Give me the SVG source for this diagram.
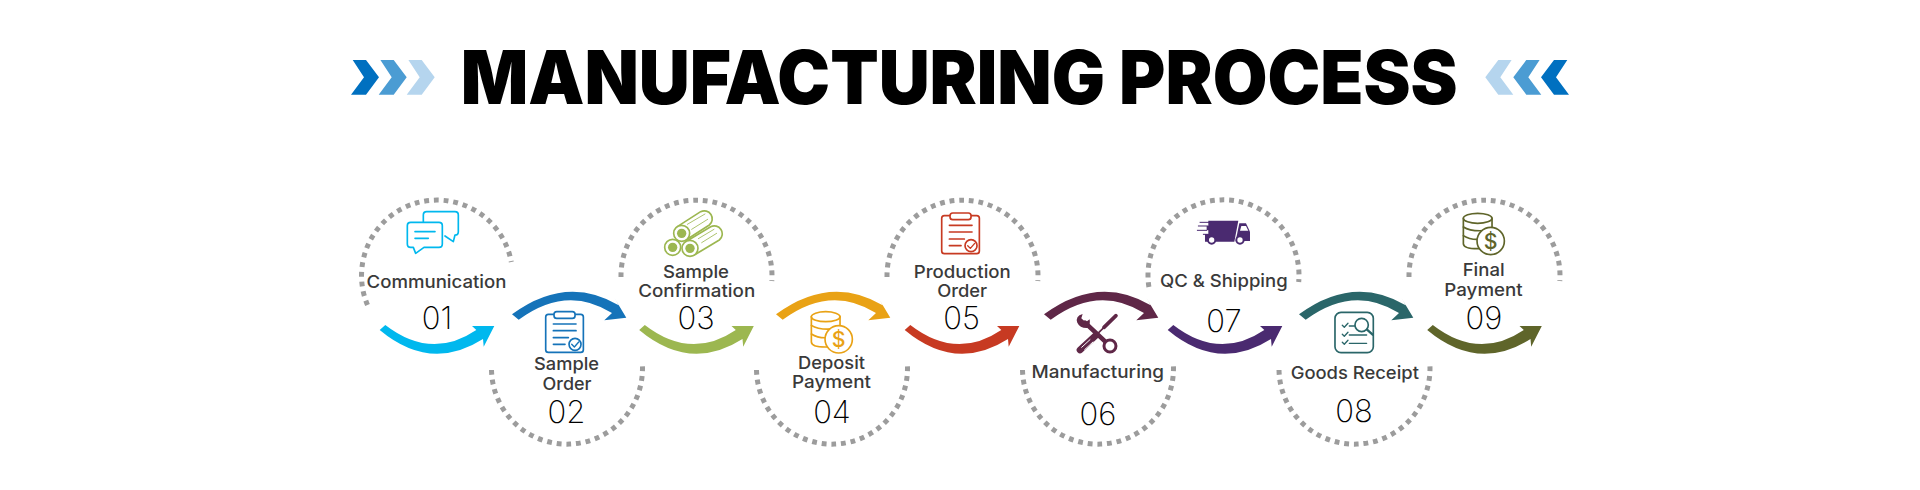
<svg xmlns="http://www.w3.org/2000/svg" width="1920" height="490" viewBox="0 0 1920 490">
<style>
text{font-family:Inter,"Liberation Sans",sans-serif;text-anchor:middle}
.title{font-size:74px;font-weight:900;fill:#000}
.lb{font-size:17.5px;font-weight:500;fill:#3a3a3a}
.num{font-size:31px;font-weight:200;fill:#000}
.ring{fill:none;stroke:#9c9c9c;stroke-width:5;stroke-dasharray:4.8 4.9}
.ic{fill:none;stroke:currentColor;stroke-width:5;stroke-linecap:round;stroke-linejoin:round}
.wf{fill:#fff}
.ff{fill:currentColor;stroke:none}
</style>
<defs>
<path id="chev" d="M1.7,0H15L28,17.3L15,34.7H0L13,17.3Z"/>
<path id="arrowLow" d="M-51.7,-24Q-5.8,11.5 39.3,-19L35,-23H57.3L46.7,-2.3L46,-10Q-6.4,23.5 -57.3,-19Z"/>
<path id="arrowUp" d="M-55,22.3Q-0.4,-17.8 51.7,13.3L47.3,5.7L59.3,25.7L37.3,28.3L45,21Q-0.4,-7.7 -48.3,27.7Z"/>
<g id="clipboard" class="ic">
<rect x="0" y="0" width="113" height="114" rx="8"/>
<rect class="wf" x="25" y="-8" width="63" height="20" rx="8"/>
<path d="M23,29H91M23,49H91M23,70H68M23,90H58"/>
<circle class="wf" cx="88" cy="90" r="18"/>
<path d="M78,90L86,98L99,83" stroke-width="4"/>
</g>
<g id="coins" class="ic">
<path class="wf" d="M-43,0V76Q-43,91 0,91Q43,91 43,76V0"/>
<ellipse class="wf" cx="0" cy="0" rx="43" ry="15"/>
<path d="M-43,26Q-20,41 30,36M-43,52Q-20,67 15,62"/>
<circle class="wf" cx="39" cy="68" r="41"/>
<text x="39" y="91" font-size="64" font-weight="500" fill="currentColor" stroke="none">$</text>
</g>
</defs>

<g id="title">
<text class="title" x="959.2" y="104" textLength="997" lengthAdjust="spacingAndGlyphs">MANUFACTURING PROCESS</text>
<use href="#chev" x="351" y="60" fill="#0070c0"/>
<use href="#chev" x="378.7" y="60" fill="#4b9cd3"/>
<use href="#chev" x="406.7" y="60" fill="#b5d5ee"/>
<g transform="translate(1920,0) scale(-1,1)">
<use href="#chev" x="351" y="60" fill="#0070c0"/>
<use href="#chev" x="378.7" y="60" fill="#4b9cd3"/>
<use href="#chev" x="406.7" y="60" fill="#b5d5ee"/>
</g>
</g>

<g id="connectors">
<use href="#arrowLow" x="437" y="349" fill="#00b8ee"/>
<use href="#arrowUp" x="567" y="292" fill="#1573b9"/>
<use href="#arrowLow" x="696.5" y="349" fill="#9cb750"/>
<use href="#arrowUp" x="831" y="292" fill="#e9a215"/>
<use href="#arrowLow" x="962" y="349" fill="#c73a22"/>
<use href="#arrowUp" x="1099" y="292" fill="#5f2747"/>
<use href="#arrowLow" x="1225" y="349" fill="#4a2a70"/>
<use href="#arrowUp" x="1354" y="292" fill="#2a6669"/>
<use href="#arrowLow" x="1484.5" y="349" fill="#5f652a"/>
</g>

<g id="node-01">
<path class="ring" d="M367.5,305A75.5,75.5 0 1 1 511.3,262"/>
<g transform="translate(350,190) scale(.3333)" style="color:#00b8ee" class="ic">
<path d="M220,95V75Q220,65 230,65H315Q325,65 325,75V125Q325,135 315,135L310,155L285,138"/>
<path class="wf" d="M182,97H267Q277,97 277,107V162Q277,172 267,172H222L197,190L190,172H182Q172,172 172,162V107Q172,97 182,97Z"/>
<path d="M195,125H255M195,145H235"/>
</g>
<text class="lb" x="436.5" y="288" textLength="140" lengthAdjust="spacingAndGlyphs">Communication</text>
<text class="num" x="437" y="329">01</text>
</g>

<g id="node-02">
<path class="ring" d="M491.5,370A75.5,75.5 0 1 0 642.4,365"/>
<use href="#clipboard" transform="translate(545.7,314.3) scale(.3333)" style="color:#1573b9"/>
<text class="lb" x="566.5" y="370.3" textLength="65" lengthAdjust="spacingAndGlyphs">Sample</text>
<text class="lb" x="567" y="390" textLength="49" lengthAdjust="spacingAndGlyphs">Order</text>
<text class="num" x="566.5" y="423">02</text>
</g>

<g id="node-03">
<path class="ring" d="M621,277A75.5,75.5 0 1 1 771.8,281"/>
<g transform="translate(610,190) scale(.3333)" style="color:#9cb750" class="ic">
<path class="wf" d="M227,155L302,110A24,24 0 0 1 328,150L253,195"/>
<path class="wf" d="M202,110L272,65A24,24 0 0 1 298,105L228,150"/>
<path d="M232,103L285,72M245,118L293,88M265,146L312,118M275,158L320,130" stroke-width="2.5"/>
<circle class="wf" cx="188" cy="172" r="24"/><circle class="ff" cx="188" cy="172" r="14"/>
<circle class="wf" cx="240" cy="175" r="24"/><circle class="ff" cx="240" cy="175" r="14"/>
<circle class="wf" cx="215" cy="130" r="24"/><circle class="ff" cx="215" cy="130" r="14"/>
</g>
<text class="lb" x="696" y="277.7" textLength="66" lengthAdjust="spacingAndGlyphs">Sample</text>
<text class="lb" x="696.7" y="297.3" textLength="117" lengthAdjust="spacingAndGlyphs">Confirmation</text>
<text class="num" x="696" y="329">03</text>
</g>

<g id="node-04">
<path class="ring" d="M756.5,370A75.5,75.5 0 1 0 907.4,365"/>
<use href="#coins" transform="translate(825.7,316.7) scale(.3333)" style="color:#e9a215"/>
<text class="lb" x="831.5" y="369" textLength="67" lengthAdjust="spacingAndGlyphs">Deposit</text>
<text class="lb" x="831.5" y="388.3" textLength="79" lengthAdjust="spacingAndGlyphs">Payment</text>
<text class="num" x="832" y="422.7">04</text>
</g>

<g id="node-05">
<path class="ring" d="M887,277A75.5,75.5 0 1 1 1037.8,281"/>
<use href="#clipboard" transform="translate(941.7,215.7) scale(.3333)" style="color:#c73a22"/>
<text class="lb" x="962.3" y="277.7" textLength="97" lengthAdjust="spacingAndGlyphs">Production</text>
<text class="lb" x="962.2" y="297.3" textLength="50" lengthAdjust="spacingAndGlyphs">Order</text>
<text class="num" x="961.7" y="329">05</text>
</g>

<g id="node-06">
<path class="ring" d="M1022.5,370A75.5,75.5 0 1 0 1173.4,365"/>
<g transform="translate(880,190) scale(.3333)" style="color:#5f2747" class="ic">
<path d="M600,480L648,436" stroke-width="20"/>
<path d="M605,472L630,449M614,479L639,456" stroke="#fff" stroke-width="3"/>
<path d="M650,434L672,412" stroke-width="5"/>
<path d="M672,412L708,377" stroke-width="11"/>
<path d="M615,398L676,455" stroke-width="14"/>
<path class="ff" d="M608,372Q585,378 592,398Q600,415 622,414Q632,405 629,388L617,397L604,385Z"/>
<circle class="wf" cx="690" cy="468" r="18" stroke-width="9"/>
</g>
<text class="lb" x="1097.8" y="378.3" textLength="132.4" lengthAdjust="spacingAndGlyphs">Manufacturing</text>
<text class="num" x="1098" y="425">06</text>
</g>

<g id="node-07">
<path class="ring" d="M1148.9,287A75.5,75.5 0 1 1 1298.7,282"/>
<g transform="translate(1140,190) scale(.3333)" style="color:#4a2a70" class="ic">
<path class="ff" d="M205,92H295L283,155H195V132H205V121H200V108H205Z"/>
<path class="ff" d="M298,100H318L330,125V153H287Z"/>
<path d="M304,108L300,122H325L318,108Z" fill="#fff" stroke="none"/>
<path d="M180,97H212M175,108H205M172,121H200M190,133H205" stroke-width="3"/>
<circle class="wf" cx="215" cy="150" r="11" stroke-width="6"/>
<circle class="wf" cx="300" cy="150" r="11" stroke-width="6"/>
</g>
<text class="lb" x="1223.8" y="286.7" textLength="127.7" lengthAdjust="spacingAndGlyphs">QC &amp; Shipping</text>
<text class="num" x="1224" y="331.7">07</text>
</g>

<g id="node-08">
<path class="ring" d="M1279,370A75.5,75.5 0 1 0 1429.9,365"/>
<g transform="translate(1140,190) scale(.3333)" style="color:#2a6669" class="ic">
<rect x="585" y="367" width="115" height="121" rx="18"/>
<path d="M607,406L613,412L624,400M607,433L613,439L624,427M607,457L613,463L624,451" stroke-width="4"/>
<path d="M628,408H645M628,435H680M628,460H680" stroke-width="4"/>
<circle class="wf" cx="665" cy="405" r="20"/>
<path d="M682,420L698,434" stroke-width="7"/>
</g>
<text class="lb" x="1354.8" y="379" textLength="128.3" lengthAdjust="spacingAndGlyphs">Goods Receipt</text>
<text class="num" x="1354" y="422.3">08</text>
</g>

<g id="node-09">
<path class="ring" d="M1409,277A75.5,75.5 0 1 1 1559.8,281"/>
<use href="#coins" transform="translate(1477.7,218.3) scale(.3333)" style="color:#5f652a"/>
<text class="lb" x="1483.7" y="276" textLength="42" lengthAdjust="spacingAndGlyphs">Final</text>
<text class="lb" x="1483.5" y="295.7" textLength="78.3" lengthAdjust="spacingAndGlyphs">Payment</text>
<text class="num" x="1484" y="329">09</text>
</g>
</svg>
